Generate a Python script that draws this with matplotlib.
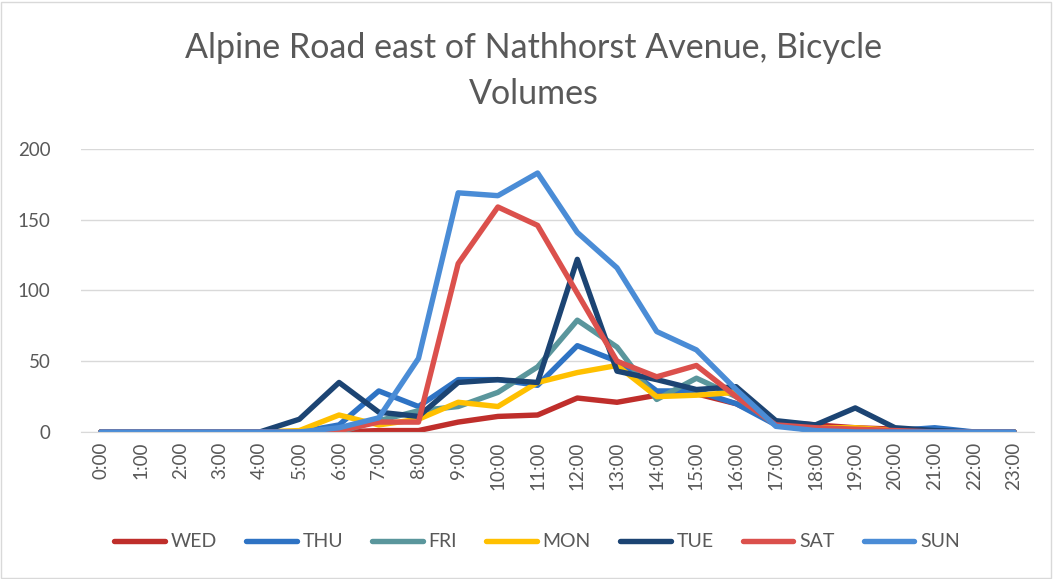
import matplotlib
matplotlib.use("Agg")
import matplotlib.pyplot as plt
from matplotlib.patches import Rectangle

hours = [f"{h}:00" for h in range(24)]

wed = [0, 0, 0, 0, 0, 0, 0, 1, 1, 7, 11, 12, 24, 21, 26, 27, 20, 7, 5, 3, 2, 1, 0, 0]
thu = [0, 0, 0, 0, 0, 0, 5, 29, 18, 37, 37, 33, 61, 50, 29, 29, 20, 5, 1, 1, 1, 3, 0, 0]
fri = [0, 0, 0, 0, 0, 0, 0, 8, 15, 18, 28, 46, 79, 60, 23, 38, 25, 5, 1, 1, 1, 0, 0, 0]
mon = [0, 0, 0, 0, 0, 1, 12, 5, 9, 21, 18, 35, 42, 47, 25, 26, 28, 5, 3, 3, 1, 0, 0, 0]
tue = [0, 0, 0, 0, 0, 9, 35, 14, 11, 35, 37, 35, 122, 43, 37, 30, 32, 8, 5, 17, 3, 1, 0, 0]
sat = [0, 0, 0, 0, 0, 0, 1, 7, 7, 119, 159, 146, 98, 50, 39, 47, 25, 5, 3, 2, 1, 0, 0, 0]
sun = [0, 0, 0, 0, 0, 0, 3, 10, 52, 169, 167, 183, 141, 116, 71, 58, 30, 4, 1, 0, 0, 0, 0, 0]

series = [
    ("WED", wed, "#BF2E2B"),
    ("THU", thu, "#2E73C4"),
    ("FRI", fri, "#5A969C"),
    ("MON", mon, "#FFC000"),
    ("TUE", tue, "#1C4473"),
    ("SAT", sat, "#DB504C"),
    ("SUN", sun, "#4A8CD6"),
]

plt.rcParams["font.family"] = ["Lato", "DejaVu Sans"]
txt = "#595959"

fig = plt.figure(figsize=(10.53, 5.79), dpi=100)
fig.patches.append(Rectangle((0.001, 0.002), 0.997, 0.995, transform=fig.transFigure,
                             fill=False, edgecolor="#D9D9D9", linewidth=1))
ax = fig.add_axes([0.0769, 0.2539, 0.905, 0.4888])

x = list(range(len(hours)))
for name, vals, col in series:
    ax.plot(x, vals, color=col, linewidth=3.9, label=name,
            solid_joinstyle="round", solid_capstyle="round")

ax.set_xlim(-0.5, 23.5)
ax.set_ylim(0, 200)
ax.set_yticks([0, 50, 100, 150, 200])
ax.set_xticks(x)
ax.set_xticklabels(hours, rotation=90)
ax.grid(axis="y", color="#D9D9D9", linewidth=1)
ax.set_axisbelow(True)
for s in ["top", "right", "left"]:
    ax.spines[s].set_visible(False)
ax.spines["bottom"].set_color("#D9D9D9")
ax.tick_params(axis="both", length=0, labelsize=13.5, colors=txt, pad=7)
ax.tick_params(axis="y", pad=22)

fig.text(0.507, 0.877, "Alpine Road east of Nathhorst Avenue, Bicycle\nVolumes",
         ha="center", va="center", fontsize=24.5, color=txt, linespacing=1.55)

fig.legend(loc="center", bbox_to_anchor=(0.51, 0.064), ncol=7, frameon=False,
           fontsize=14, labelcolor=txt, handlelength=2.6, columnspacing=1.5,
           handletextpad=0.3)

fig.savefig("out.png", dpi=100)
